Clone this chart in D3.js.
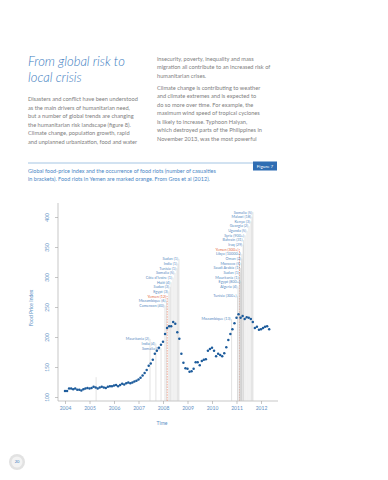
<!DOCTYPE html>
<html>
<head>
<meta charset="utf-8">
<script src="https://cdn.jsdelivr.net/npm/d3@7"></script>
<style>
  body { margin: 0; background: #fff; }
  svg text { font-family: Lato, "Open Sans", sans-serif; }
</style>
</head>
<body>
<div id="chart"></div>
<script>
// ---- data ----
var years = [2004, 2005, 2006, 2007, 2008, 2009, 2010, 2011, 2012];
var yTicks = [100, 150, 200, 250, 300, 350, 400];

// monthly food price index, Jan 2004 - May 2012
var priceIndex = [
  110, 110, 114, 114, 113, 114, 112, 112, 111, 113, 114, 115,   // 2004
  114, 115, 117, 116, 114, 116, 117, 116, 115, 117, 118, 118,   // 2005
  119, 120, 118, 120, 122, 121, 123, 124, 123, 124, 126, 127,   // 2006
  129, 132, 136, 140, 145, 152, 156, 162, 172, 177, 182, 187,   // 2007
  192, 205, 215, 218, 218, 225, 222, 208, 197, 172, 157, 148,   // 2008
  147, 142, 143, 147, 158, 158, 153, 160, 162, 163, 177, 180,   // 2009
  182, 177, 168, 172, 170, 168, 173, 183, 195, 205, 213, 223,   // 2010
  232, 238, 232, 235, 230, 233, 232, 230, 225, 215, 217, 212,   // 2011
  213, 215, 217, 218, 213                                       // 2012
];

// food riots (label = country (casualties)), grouped as they are stacked
var riotLabels2007 = ["Mauritania (2)", "India (4)", "Somalia (5)"];
var riotDates2007  = [2007.47, 2007.71, 2007.92];

var riotLabels2008 = ["Sudan (1)", "India (1)", "Tunisia (1)", "Somalia (5)", "Côte d'Ivoire (1)",
                      "Haiti (4)", "Sudan (3)", "Egypt (3)", "Yemen (12)", "Mozambique (6)", "Cameroon (40)"];
var riotDates2008  = [2008.65, 2008.61, 2008.57, 2008.49, 2008.41,
                      2008.33, 2008.29, 2008.24, 2008.17, 2008.14, 2008.08];

var riotLabels2010 = ["Mozambique (13)"];
var riotDates2010  = [2010.8];

var riotLabels2011 = ["Somalia (5)", "Malawi (18)", "Kenya (3)", "Georgia (2)", "Uganda (5)", "Syria (900+)",
                      "Bahrain (31)", "Iraq (29)", "Yemen (300+)", "Libya (10000+)", "Oman (2)", "Morocco (5)",
                      "Saudi Arabia (1)", "Sudan (1)", "Mauritania (1)", "Egypt (800+)", "Algeria (4)", null,
                      "Tunisia (300+)"];
var riotDates2011  = [2011.67, 2011.63, 2011.59, 2011.51, 2011.43, 2011.35,
                      2011.29, 2011.27, 2011.12, 2011.22, 2011.22, 2011.2,
                      2011.16, 2011.14, 2011.12, 2011.18, 2011.06, null,
                      2011.04];

// a riot line with no label
var riotDatesUnlabeled = [2005.27];

var titleLines = ["From global risk to", "local crisis"];
var leftText = [
  "Disasters and conflict have been understood",
  "as the main drivers of humanitarian need,",
  "but a number of global trends are changing",
  "the humanitarian risk landscape (figure 8).",
  "Climate change, population growth, rapid",
  "and unplanned urbanization, food and water"
];
var rightText1 = [
  "insecurity, poverty, inequality and mass",
  "migration all contribute to an increased risk of",
  "humanitarian crises."
];
var rightText2 = [
  "Climate change is contributing to weather",
  "and climate extremes and is expected to",
  "do so more over time. For example, the",
  "maximum wind speed of tropical cyclones",
  "is likely to increase. Typhoon Haiyan,",
  "which destroyed parts of the Philippines in",
  "November 2013, was the most powerful"
];
var captionLines = [
  "Global food-price index and the occurrence of food riots (number of casualties",
  "in brackets). Food riots in Yemen are marked orange. From Gros et al (2012)."
];

// ---- page ----
var width = 388, height = 480;
var blue = "#3b7cc0", grey = "#808080";

var svg = d3.select("#chart").append("svg")
    .attr("width", width)
    .attr("height", height);

svg.append("rect").attr("width", width).attr("height", height).attr("fill", "#fff");

// title
svg.selectAll(".title").data(titleLines).enter().append("text")
    .attr("x", 28)
    .attr("y", function(d, i) { return 65.5 + i * 16; })
    .style("font-size", "13px")
    .style("font-style", "italic")
    .style("font-weight", 300)
    .attr("fill", blue)
    .text(function(d) { return d; });

// body text
function para(lines, x, y0, lh) {
  svg.append("g").selectAll("text").data(lines).enter().append("text")
      .attr("x", x)
      .attr("y", function(d, i) { return y0 + i * lh; })
      .style("font-size", "5.65px")
      .attr("fill", grey)
      .text(function(d) { return d; });
}
para(leftText, 28, 101, 8.6);
para(rightText1, 157, 60.5, 8.5);
para(rightText2, 157, 89.5, 8.5);

// figure rule, box and caption
svg.append("line")
    .attr("x1", 28).attr("x2", 253).attr("y1", 163).attr("y2", 163)
    .attr("stroke", "#8db6dc").attr("stroke-width", 0.8);
svg.append("rect")
    .attr("x", 253).attr("y", 161.5).attr("width", 24).attr("height", 9)
    .attr("fill", "#2f6db3");
svg.append("text")
    .attr("x", 265).attr("y", 167.6)
    .attr("text-anchor", "middle")
    .style("font-size", "4.6px")
    .attr("fill", "#fff")
    .text("Figure 7");
svg.append("g").selectAll("text").data(captionLines).enter().append("text")
    .attr("x", 28)
    .attr("y", function(d, i) { return 173 + i * 8; })
    .style("font-size", "5.5px")
    .attr("fill", "#4a86c5")
    .text(function(d) { return d; });

// ---- chart ----
var x = d3.scaleLinear().domain([2004, 2012]).range([65, 261]);
var y = d3.scaleLinear().domain([100, 400]).range([397, 217]);
var axisLeftX = 58, axisBottomY = 401, plotTop = 203, plotRight = 278;
var tickColor = "#5d8fc4";

// plot box (left + bottom)
svg.append("path")
    .attr("d", "M" + axisLeftX + "," + plotTop + "V" + axisBottomY + "H" + plotRight)
    .attr("fill", "none")
    .attr("stroke", "#b0b0b0")
    .attr("stroke-width", 0.7);

// y axis
var gy = svg.append("g")
    .attr("transform", "translate(" + axisLeftX + ",0)")
    .call(d3.axisLeft(y).tickValues(yTicks).tickSize(3));
gy.select(".domain").remove();
gy.selectAll("line").attr("stroke", "#a0a0a0").attr("stroke-width", 0.6);
gy.selectAll("text")
    .attr("x", 0).attr("dy", 0)
    .attr("text-anchor", "middle")
    .attr("transform", "translate(-9.5,0) rotate(-90)")
    .style("font-size", "5px")
    .style("font-family", "Lato, 'Open Sans', sans-serif")
    .attr("fill", tickColor);

// x axis
var gx = svg.append("g")
    .attr("transform", "translate(0," + axisBottomY + ")")
    .call(d3.axisBottom(x).tickValues(years).tickFormat(d3.format("d")).tickSize(3).tickPadding(2.5));
gx.select(".domain").remove();
gx.selectAll("line").attr("stroke", "#a0a0a0").attr("stroke-width", 0.6);
gx.selectAll("text")
    .style("font-size", "5px")
    .style("font-family", "Lato, 'Open Sans', sans-serif")
    .attr("fill", tickColor);

// axis titles
svg.append("text")
    .attr("transform", "translate(33,308) rotate(-90)")
    .attr("text-anchor", "middle")
    .style("font-size", "5px")
    .attr("fill", tickColor)
    .text("Food Price Index");
svg.append("text")
    .attr("x", 162).attr("y", 425)
    .attr("text-anchor", "middle")
    .style("font-size", "5px")
    .attr("fill", tickColor)
    .text("Time");

// riots: vertical lines up to a stacked label
var rowStep = 4.65;
var riotGroups = [
  { labels: riotLabels2007, dates: riotDates2007, top: 196.7 },
  { labels: riotLabels2008, dates: riotDates2008, top: 330 },
  { labels: riotLabels2010, dates: riotDates2010, top: 230 },
  { labels: riotLabels2011, dates: riotDates2011, top: 408 }
];
var riots = [];
riotGroups.forEach(function(g) {
  g.labels.forEach(function(lab, i) {
    if (lab === null) return;
    riots.push({ label: lab, date: g.dates[i], ly: y(g.top) + i * rowStep });
  });
});
riotDatesUnlabeled.forEach(function(d) { riots.push({ label: "", date: d, ly: y(133) }); });

function isYemen(d) { return d.label.indexOf("Yemen") === 0; }

var riotG = svg.append("g");
riotG.selectAll("line").data(riots).enter().append("line")
    .attr("x1", function(d) { return x(d.date); })
    .attr("x2", function(d) { return x(d.date); })
    .attr("y1", axisBottomY)
    .attr("y2", function(d) { return d.ly; })
    .attr("stroke", function(d) { return isYemen(d) ? "#e8653f" : "#c6c6c6"; })
    .attr("stroke-width", function(d) { return isYemen(d) ? 0.6 : 0.5; })
    .attr("stroke-dasharray", function(d) { return isYemen(d) ? "1.6,1" : null; });

riotG.selectAll("text").data(riots).enter().append("text")
    .attr("x", function(d) { return x(d.date) - 1; })
    .attr("y", function(d) { return d.ly; })
    .attr("dy", "0.35em")
    .attr("text-anchor", "end")
    .style("font-size", "3.8px")
    .attr("fill", function(d) { return isYemen(d) ? "#e3643c" : "#5a8cc2"; })
    .text(function(d) { return d.label; });

// food price index points
svg.append("g").selectAll("circle").data(priceIndex).enter().append("circle")
    .attr("cx", function(d, i) { return x(2004 + i / 12); })
    .attr("cy", function(d) { return y(d); })
    .attr("r", 1.25)
    .attr("fill", "#1d5c9c");

// page number
svg.append("circle").attr("cx", 17).attr("cy", 462).attr("r", 8).attr("fill", "#e2e2e2");
svg.append("circle").attr("cx", 17).attr("cy", 462).attr("r", 5.5).attr("fill", "#f3f3f3");
svg.append("text")
    .attr("x", 17).attr("y", 463.4)
    .attr("text-anchor", "middle")
    .style("font-size", "4px")
    .attr("fill", blue)
    .text("20");
</script>
</body>
</html>
